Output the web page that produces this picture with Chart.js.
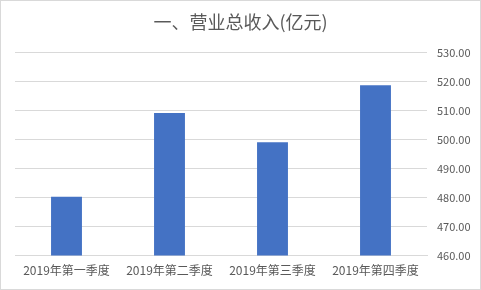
<!DOCTYPE html>
<html>
<head>
<meta charset="utf-8">
<script src="https://cdn.jsdelivr.net/npm/chart.js@4"></script>
<style>
  html, body { margin: 0; padding: 0; background: #fff; }
  #wrap { width: 481px; height: 290px; }
</style>
</head>
<body>
<div id="wrap"><canvas id="chart"></canvas></div>
<script>
const quarters = ['2019年第一季度', '2019年第二季度', '2019年第三季度', '2019年第四季度'];
const revenue = [480.3, 509.2, 499.1, 518.7];
const titleText = '一、营业总收入(亿元)';

const font = '"Noto Sans CJK SC", "Noto Sans", sans-serif';
const grey = '#595959';

// light frame around the whole chart, like the Excel chart border
const frame = {
	id: 'frame',
	beforeDraw(chart) {
		const ctx = chart.ctx;
		ctx.save();
		ctx.fillStyle = '#fff';
		ctx.fillRect(0, 0, chart.width, chart.height);
		ctx.strokeStyle = '#d9d9d9';
		ctx.lineWidth = 1;
		ctx.strokeRect(0.5, 0.5, chart.width - 1, chart.height - 1);
		ctx.restore();
	}
};

new Chart(document.getElementById('chart'), {
	type: 'bar',
	data: {
		labels: quarters,
		datasets: [{
			data: revenue,
			backgroundColor: '#4472C4',
			barPercentage: 0.3,
			categoryPercentage: 1
		}]
	},
	options: {
		responsive: true,
		maintainAspectRatio: false,
		animation: false,
		layout: { padding: { left: 0, right: 0, top: 0, bottom: 4 } },
		plugins: {
			legend: { display: false },
			tooltip: { enabled: false },
			title: {
				display: true,
				text: titleText,
				color: grey,
				font: { family: font, size: 18, weight: 'normal' },
				padding: { top: 11, bottom: 20 }
			}
		},
		scales: {
			x: {
				grid: { display: false, drawTicks: false },
				border: { display: true, color: '#d9d9d9' },
				ticks: { color: grey, font: { family: font, size: 12 }, padding: 8, maxRotation: 0 }
			},
			y: {
				position: 'right',
				min: 460,
				max: 530,
				grid: { color: '#d9d9d9', drawTicks: false },
				border: { display: false },
				ticks: {
					stepSize: 10,
					color: grey,
					font: { family: font, size: 11 },
					padding: 10,
					callback: (v) => v.toFixed(2)
				},
				afterFit: (scale) => { scale.width = 54; }
			},
			// empty left gutter so the title stays centred on the whole canvas
			gutter: {
				position: 'left',
				min: 460,
				max: 530,
				grid: { display: false, drawTicks: false },
				border: { display: false },
				ticks: { display: false },
				afterFit: (scale) => { scale.width = 15; }
			}
		}
	},
	plugins: [frame]
});
</script>
</body>
</html>
